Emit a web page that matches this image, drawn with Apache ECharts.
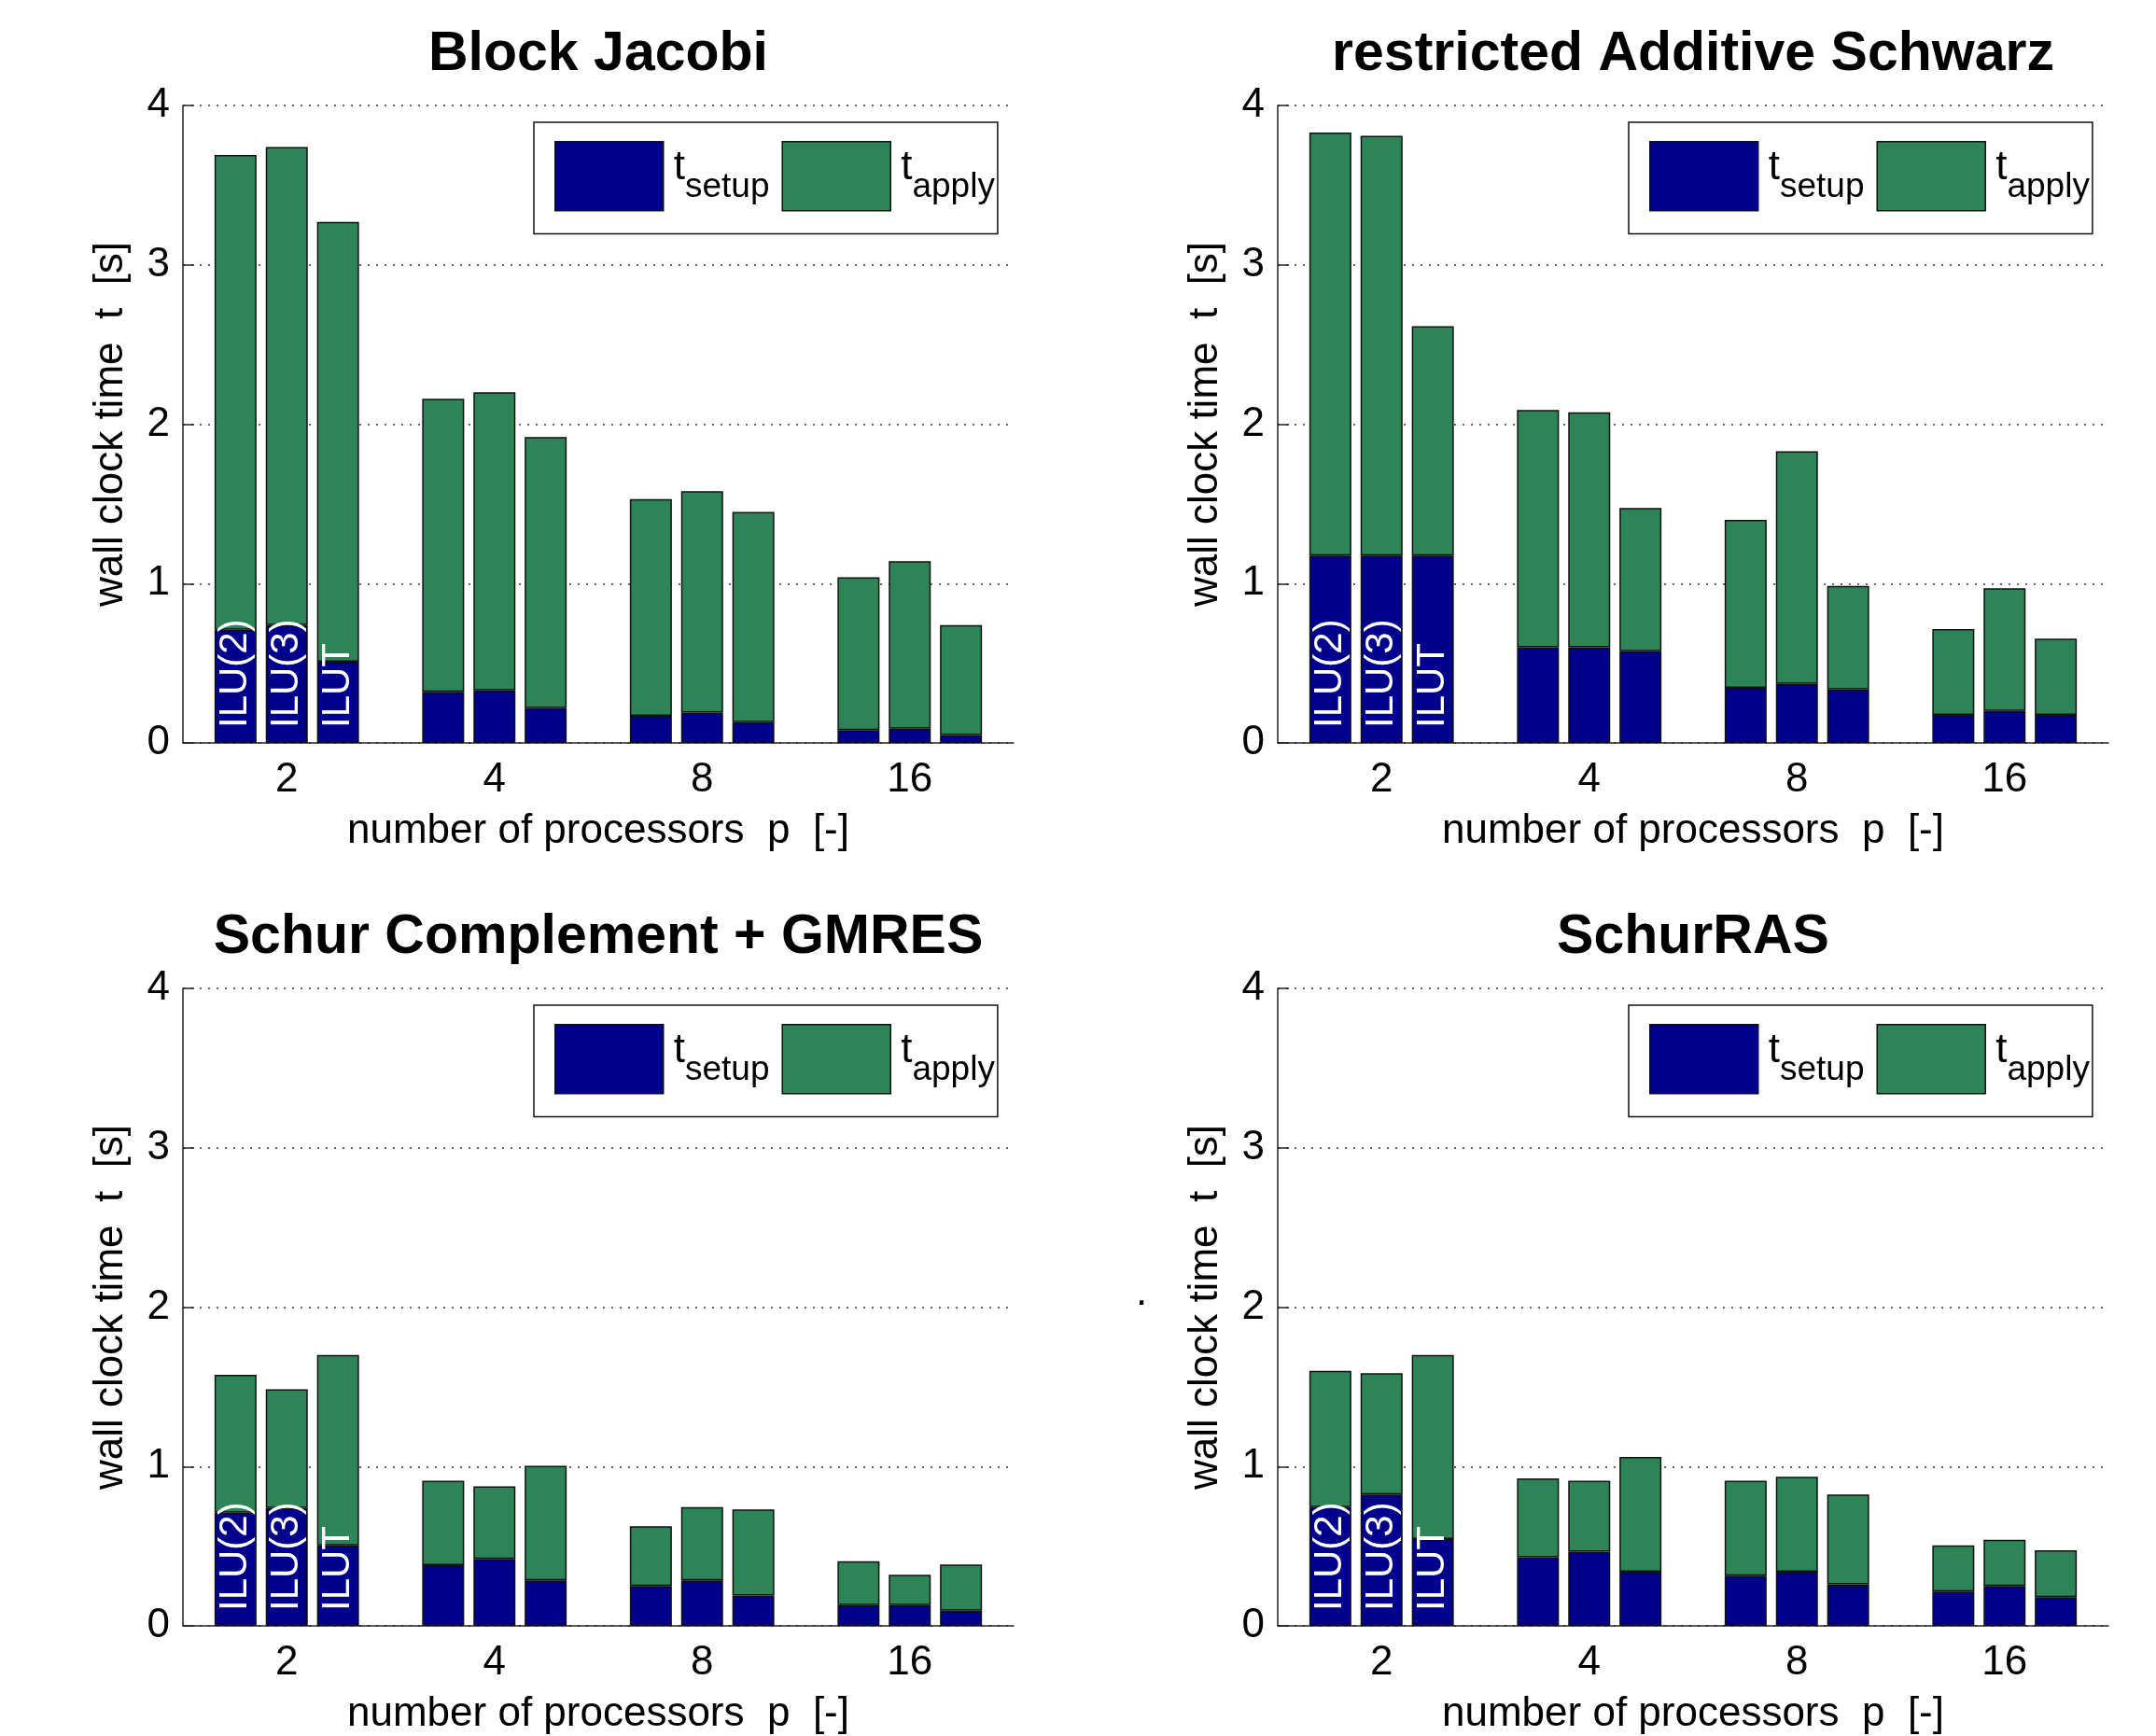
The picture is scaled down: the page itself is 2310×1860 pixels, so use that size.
<!DOCTYPE html>
<html>
<head>
<meta charset="utf-8">
<script src="https://cdn.jsdelivr.net/npm/echarts@6/dist/echarts.min.js"></script>
<style>
html,body{margin:0;padding:0;background:#fff;}
#main{width:2310px;height:1860px;}
</style>
</head>
<body>
<div id="main"></div>
<script>
// ---- data ----
const categories = ['2', '4', '8', '16'];
const precLabels = ['ILU(2)', 'ILU(3)', 'ILUT'];
const titles = ['Block Jacobi', 'restricted Additive Schwarz', 'Schur Complement + GMRES', 'SchurRAS'];
const yTicks = [0, 1, 2, 3, 4];

// rows: ILU(2), ILU(3), ILUT ; columns: p = 2, 4, 8, 16
const bjSetup  = [[0.71, 0.32, 0.17, 0.08], [0.74, 0.33, 0.19, 0.09], [0.51, 0.22, 0.13, 0.05]];
const bjApply  = [[2.98, 1.84, 1.36, 0.96], [3.00, 1.87, 1.39, 1.05], [2.76, 1.70, 1.32, 0.69]];

const rasSetup = [[1.175, 0.60, 0.345, 0.175], [1.175, 0.60, 0.37, 0.20], [1.175, 0.575, 0.335, 0.175]];
const rasApply = [[2.655, 1.49, 1.055, 0.54], [2.635, 1.475, 1.46, 0.77], [1.44, 0.90, 0.65, 0.48]];

const scSetup  = [[0.71, 0.38, 0.25, 0.13], [0.74, 0.42, 0.285, 0.13], [0.505, 0.285, 0.19, 0.095]];
const scApply  = [[0.865, 0.53, 0.375, 0.275], [0.745, 0.455, 0.46, 0.19], [1.195, 0.72, 0.54, 0.29]];

const srSetup  = [[0.745, 0.43, 0.315, 0.215], [0.825, 0.465, 0.34, 0.25], [0.545, 0.34, 0.26, 0.18]];
const srApply  = [[0.855, 0.495, 0.595, 0.29], [0.76, 0.445, 0.595, 0.29], [1.155, 0.72, 0.565, 0.295]];

const panels = [
  {setup: bjSetup, apply: bjApply},
  {setup: rasSetup, apply: rasApply},
  {setup: scSetup, apply: scApply},
  {setup: srSetup, apply: srApply}
];

// ---- layout / style ----
const FONT = '"Liberation Sans", Arial, Helvetica, sans-serif';
const BLUE = '#00008C';
const GREEN = '#2D8557';
const gridPos = [
  {left: 196, top: 113},
  {left: 1369, top: 113},
  {left: 196, top: 1059},
  {left: 1369, top: 1059}
];
const GW = 890, GH = 683;

const grid = [], xAxis = [], yAxis = [], series = [], legend = [], graphic = [];

gridPos.forEach((g, i) => {
  grid.push({left: g.left, top: g.top, width: GW, height: GH, containLabel: false});
  xAxis.push({
    type: 'category', gridIndex: i, data: categories,
    name: 'number of processors  p  [-]', nameLocation: 'middle', nameGap: 73,
    nameTextStyle: {fontSize: 44, color: '#000', fontFamily: FONT},
    axisLine: {show: true, lineStyle: {color: '#222', width: 1.5}},
    axisTick: {show: false},
    axisLabel: {fontSize: 44, color: '#000', fontFamily: FONT, margin: 18},
    splitLine: {show: false}
  });
  yAxis.push({
    type: 'value', gridIndex: i, min: yTicks[0], max: yTicks[yTicks.length - 1], interval: 1,
    name: 'wall clock time  t  [s]', nameLocation: 'middle', nameGap: 55,
    nameTextStyle: {fontSize: 44, color: '#000', fontFamily: FONT},
    axisLine: {show: true, lineStyle: {color: '#222', width: 1.5}},
    axisTick: {show: true, inside: true, length: 12, lineStyle: {color: '#222', width: 1.5}},
    axisLabel: {fontSize: 44, color: '#000', fontFamily: FONT, margin: 14},
    splitLine: {show: true, lineStyle: {color: '#333', width: 1.5, type: [2, 7]}}
  });
  const p = panels[i];
  for (let k = 0; k < 3; k++) {
    const stack = 'p' + i + 's' + k;
    series.push({
      type: 'bar', name: 'tsetup', xAxisIndex: i, yAxisIndex: i, stack: stack,
      barWidth: 45, barGap: '22%', z: 3,
      itemStyle: {color: BLUE, borderColor: '#111', borderWidth: 1.5},
      label: {
        show: false, position: 'insideBottom', distance: 16, rotate: 90,
        align: 'left', verticalAlign: 'middle',
        color: '#fff', fontSize: 42, fontFamily: FONT, formatter: precLabels[k]
      },
      data: p.setup[k].map((v, j) => j === 0 ? {value: v, label: {show: true}} : v)
    });
    series.push({
      type: 'bar', name: 'tapply', xAxisIndex: i, yAxisIndex: i, stack: stack,
      barWidth: 45, barGap: '22%', z: 2,
      itemStyle: {color: GREEN, borderColor: '#111', borderWidth: 1.5},
      data: p.apply[k]
    });
  }
  legend.push({
    left: g.left + 376, top: g.top + 18, orient: 'horizontal',
    data: ['tsetup', 'tapply'], selectedMode: false,
    icon: 'rect', itemWidth: 116, itemHeight: 74, itemGap: 13,
    padding: [20, 3, 24, 22],
    backgroundColor: '#fff', borderColor: '#111', borderWidth: 1.5,
    itemStyle: {borderColor: '#111', borderWidth: 1.5},
    formatter: function (name) {
      return name === 'tsetup' ? '{t|t}{s|setup}' : '{t|t}{s|apply}';
    },
    textStyle: {
      color: '#000', fontFamily: FONT,
      rich: {
        t: {fontSize: 44, fontFamily: FONT, color: '#000', verticalAlign: 'bottom', padding: [0, 0, 18, 6]},
        s: {fontSize: 37, fontFamily: FONT, color: '#000', verticalAlign: 'bottom'}
      }
    }
  });
  graphic.push({
    type: 'text', x: g.left + GW / 2, y: g.top - 54,
    style: {text: titles[i], font: 'bold 59px ' + FONT, fill: '#000', align: 'center', verticalAlign: 'middle'}
  });
});

// stray dot present in the reference (bottom-right panel)
graphic.push({
  type: 'text', x: 1223, y: 1386,
  style: {text: '.', font: '44px ' + FONT, fill: '#000', align: 'center', verticalAlign: 'middle'}
});

const chart = echarts.init(document.getElementById('main'), null, {renderer: 'canvas'});
chart.setOption({
  backgroundColor: '#fff',
  animation: false,
  grid: grid, xAxis: xAxis, yAxis: yAxis, series: series, legend: legend, graphic: graphic
});
</script>
</body>
</html>
